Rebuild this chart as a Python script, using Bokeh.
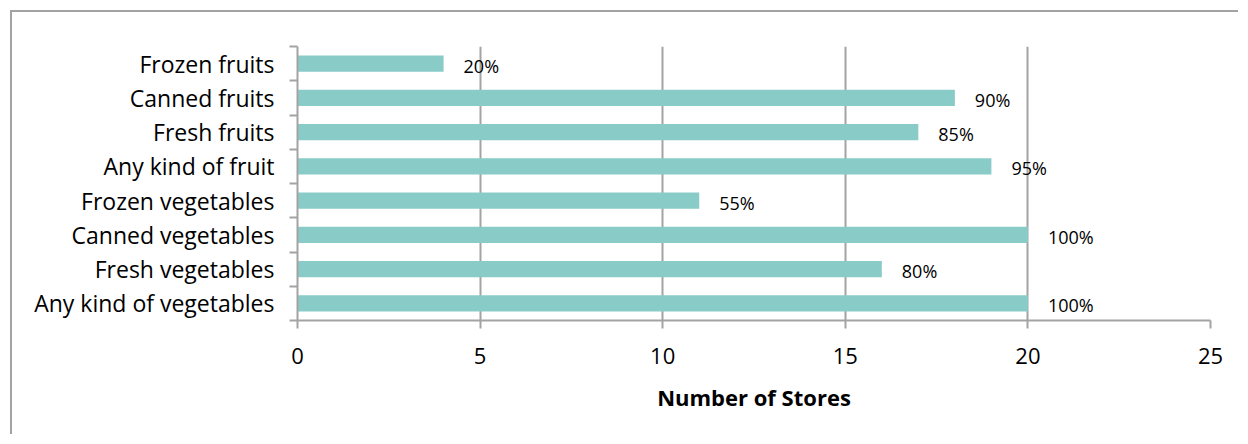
from bokeh.plotting import figure
from bokeh.layouts import column
from bokeh.models import Range1d, FixedTicker, ColumnDataSource, LabelSet
from bokeh.core.properties import value
from bokeh.embed import file_html
from bokeh.resources import INLINE

categories = ["Any kind of vegetables", "Fresh vegetables", "Canned vegetables",
              "Frozen vegetables", "Any kind of fruit", "Fresh fruits",
              "Canned fruits", "Frozen fruits"]
stores = [20, 16, 20, 11, 19, 17, 18, 4]
percent_labels = ["100%", "80%", "100%", "55%", "95%", "85%", "90%", "20%"]
x_ticks = [0, 5, 10, 15, 20, 25]

FONT = "Open Sans"
GRAY = "#a3a3a3"

ypos = [i + 0.5 for i in range(len(categories))]
src = ColumnDataSource(dict(y=ypos, v=stores, lab=percent_labels))

p = figure(width=1228, height=424, output_backend="svg", toolbar_location=None,
           x_range=Range1d(0, 25), y_range=Range1d(0, len(categories)),
           min_border_left=285, min_border_right=30, min_border_top=34,
           min_border_bottom=116,
           styles={"border-top": "2px solid " + GRAY,
                   "border-left": "2px solid " + GRAY})
p.outline_line_color = None
p.background_fill_color = "white"

p.hbar(y="y", right="v", left=0, height=0.47, source=src,
       fill_color="#88cbc7", line_color=None)

labels = LabelSet(x="v", y="y", text="lab", source=src, x_offset=20, y_offset=-2,
                  text_font=value(FONT), text_font_size="18px",
                  text_baseline="middle", text_color="black")
p.add_layout(labels)

# x axis
p.xaxis.ticker = FixedTicker(ticks=x_ticks)
p.xaxis.axis_line_color = GRAY
p.xaxis.axis_line_width = 2
p.xaxis.major_tick_line_color = GRAY
p.xaxis.major_tick_line_width = 2
p.xaxis.major_tick_out = 8
p.xaxis.major_tick_in = 0
p.xaxis.minor_tick_line_color = None
p.xaxis.major_label_text_font = FONT
p.xaxis.major_label_text_font_size = "22px"
p.xaxis.major_label_text_color = "black"
p.xaxis.major_label_standoff = 19
p.xaxis.axis_label = "Number of Stores"
p.xaxis.axis_label_text_font = FONT
p.xaxis.axis_label_text_font_size = "22px"
p.xaxis.axis_label_text_font_style = "bold"
p.xaxis.axis_label_text_color = "black"
p.xaxis.axis_label_standoff = 15

# y axis
p.yaxis.ticker = FixedTicker(ticks=ypos, minor_ticks=list(range(len(categories) + 1)))
p.yaxis.major_label_overrides = {y: c for y, c in zip(ypos, categories)}
p.yaxis.axis_line_color = GRAY
p.yaxis.axis_line_width = 2
p.yaxis.major_tick_line_color = None
p.yaxis.major_tick_out = 0
p.yaxis.major_tick_in = 0
p.yaxis.minor_tick_line_color = GRAY
p.yaxis.minor_tick_line_width = 2
p.yaxis.minor_tick_out = 8
p.yaxis.minor_tick_in = 0
p.yaxis.major_label_text_font = FONT
p.yaxis.major_label_text_font_size = "23px"
p.yaxis.major_label_text_color = "black"
p.yaxis.major_label_standoff = 15

p.xgrid.ticker = FixedTicker(ticks=x_ticks[1:])
p.xgrid.grid_line_color = GRAY
p.xgrid.grid_line_width = 2
p.ygrid.grid_line_color = None

root = column(p, styles={"padding-top": "10px", "padding-left": "10px"})

open("out.html", "w").write(file_html(root, INLINE))
